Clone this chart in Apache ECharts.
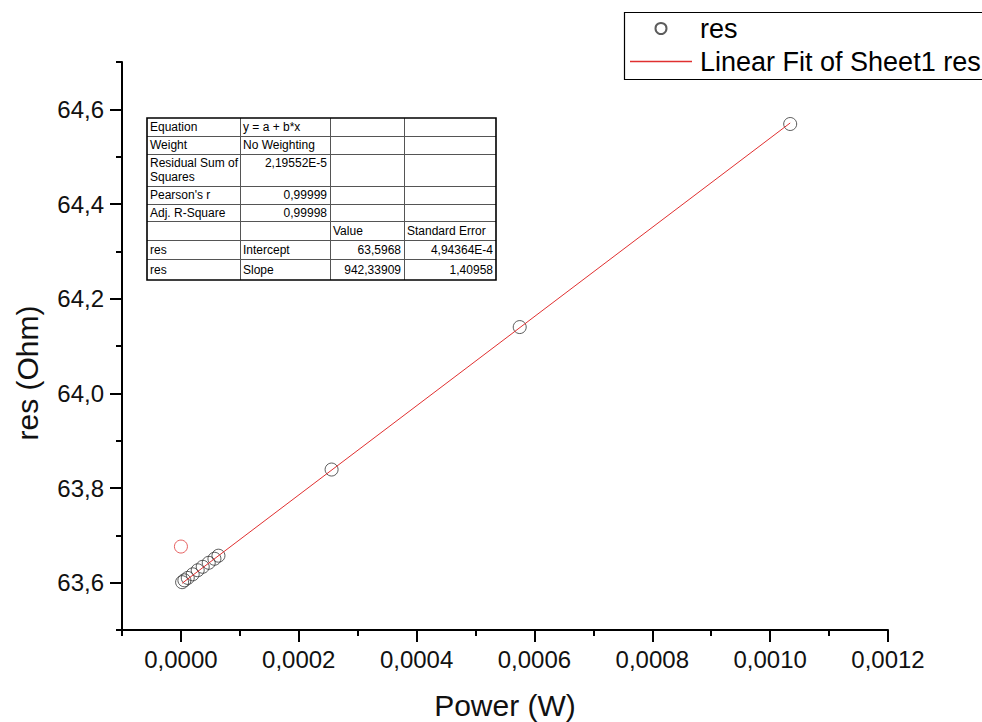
<!DOCTYPE html>
<html><head><meta charset="utf-8">
<script src="https://cdn.jsdelivr.net/npm/echarts@6/dist/echarts.min.js"></script>
<style>html,body{margin:0;padding:0;background:#fff}#c{width:982px;height:722px}</style>
</head><body><div id="c"></div>
<script>
// ---- data ----
const powerW = [0.0000020, 0.0000059, 0.0000116, 0.0000200, 0.0000285, 0.0000370, 0.0000472, 0.0000569, 0.0000637, 0.0002557, 0.0005750, 0.0010340];
const resOhm = [63.6010, 63.6050, 63.6100, 63.6176, 63.6262, 63.6335, 63.6420, 63.6505, 63.6570, 63.8390, 64.1400, 64.5690];
const maskedPower = [0.0000000];
const maskedRes = [63.6763];
const fitPower = [0.0000020, 0.0010340];
const fitRes = [63.5987, 64.5712];
const xMajorTicks = [0, 0.0002, 0.0004, 0.0006, 0.0008, 0.0010, 0.0012];
const xMinorTicks = [-0.0001, 0.0001, 0.0003, 0.0005, 0.0007, 0.0009, 0.0011];
const yMajorTicks = [63.6, 63.8, 64.0, 64.2, 64.4, 64.6];
const yMinorTicks = [63.5, 63.7, 63.9, 64.1, 64.3, 64.5, 64.7];
const seriesNames = ['res', 'Linear Fit of Sheet1 res'];
const tableRows = [
  ['Equation', 'y = a + b*x', '', ''],
  ['Weight', 'No Weighting', '', ''],
  ['Residual Sum of\nSquares', '2,19552E-5', '', ''],
  ["Pearson's r", '0,99999', '', ''],
  ['Adj. R-Square', '0,99998', '', ''],
  ['', '', 'Value', 'Standard Error'],
  ['res', 'Intercept', '63,5968', '4,94364E-4'],
  ['res', 'Slope', '942,33909', '1,40958']
];

// ---- layout ----
const FONT = '"Liberation Sans", Arial, sans-serif';
const FIT_COLOR = '#e03030';
const gridBox = {left: 122, right: 94, top: 62, bottom: 92, containLabel: false, outerBoundsMode: 'none'};
const tabL = 147, tabT = 118;
const colEdges = [0, 93, 183, 257, 349];
const rowEdges = [0, 18, 36, 68, 86, 103, 122, 141, 162];

const fmtX = v => (Math.round(v * 1e4) / 1e4).toFixed(4).replace('.', ',');
const fmtY = v => (Math.round(v * 10) / 10).toFixed(1).replace('.', ',');

// table graphic
const tableEls = [];
const tw = colEdges[colEdges.length - 1], th = rowEdges[rowEdges.length - 1];
tableEls.push({type: 'rect', shape: {x: 0, y: 0, width: tw, height: th}, style: {fill: '#fff', stroke: null}});
for (let i = 1; i < rowEdges.length - 1; i++) {
  tableEls.push({type: 'line', shape: {x1: 0, y1: rowEdges[i] + 0.5, x2: tw, y2: rowEdges[i] + 0.5}, style: {stroke: '#555', lineWidth: 1}});
}
for (let j = 1; j < colEdges.length - 1; j++) {
  tableEls.push({type: 'line', shape: {x1: colEdges[j] + 0.5, y1: 0, x2: colEdges[j] + 0.5, y2: th}, style: {stroke: '#555', lineWidth: 1}});
}
tableEls.push({type: 'rect', shape: {x: 0, y: 0, width: tw, height: th}, style: {fill: null, stroke: '#000', lineWidth: 1.6}});
tableRows.forEach((row, i) => {
  const multi = row[0].indexOf('\n') >= 0;
  row.forEach((txt, j) => {
    if (!txt) return;
    const right = /^[0-9,E\-]+$/.test(txt);
    const x = right ? colEdges[j + 1] - 3 : colEdges[j] + 3;
    const y = multi ? rowEdges[i] + 2 : (rowEdges[i] + rowEdges[i + 1]) / 2;
    tableEls.push({type: 'text', x: x, y: y, style: {
      text: txt, fill: '#000', fontSize: 12, fontFamily: FONT, lineHeight: 14,
      align: right ? 'right' : 'left', verticalAlign: multi ? 'top' : 'middle'}});
  });
});

const scatterData = powerW.map((p, i) => [p, resOhm[i]]);
maskedPower.forEach((p, i) => scatterData.push({value: [p, maskedRes[i]], itemStyle: {borderColor: '#e03a3a'}}));
const fitData = fitPower.map((p, i) => [p, fitRes[i]]);

const tickStyle = {color: '#000', width: 2};
const chart = echarts.init(document.getElementById('c'), null, {renderer: 'svg'});
chart.setOption({
  animation: false,
  backgroundColor: '#fff',
  textStyle: {fontFamily: FONT},
  grid: [Object.assign({}, gridBox), Object.assign({}, gridBox)],
  legend: {
    orient: 'vertical', left: 623, top: 10, itemWidth: 62, itemHeight: 11, itemGap: 6,
    padding: [5, 1, 2, 7], borderWidth: 0, selectedMode: false,
    textStyle: {fontSize: 27, color: '#000', fontFamily: FONT, padding: [0, 0, 0, 3]},
    data: [
      {name: seriesNames[0]},
      {name: seriesNames[1], icon: 'path://M0,0 H62 V1.5 H0 Z', itemStyle: {color: FIT_COLOR, borderWidth: 0}}
    ]
  },
  xAxis: [{
    gridIndex: 0, type: 'value', min: -0.0001, max: 0.0012, interval: 0.0001,
    axisLine: {show: true, onZero: false, lineStyle: {color: '#000', width: 2}},
    axisTick: {show: true, length: 12, customValues: xMajorTicks, lineStyle: tickStyle},
    axisLabel: {show: true, customValues: xMajorTicks, formatter: fmtX, fontSize: 24, color: '#111', margin: 17, fontFamily: FONT},
    splitLine: {show: false},
    name: 'Power (W)', nameLocation: 'middle', nameGap: 60,
    nameTextStyle: {fontSize: 30, color: '#111', fontFamily: FONT}
  }, {
    gridIndex: 1, type: 'value', min: -0.0001, max: 0.0012, interval: 0.0001,
    position: 'bottom',
    axisLine: {show: false, onZero: false},
    axisTick: {show: true, length: 6, customValues: xMinorTicks, lineStyle: tickStyle},
    axisLabel: {show: false}, splitLine: {show: false}
  }],
  yAxis: [{
    gridIndex: 0, type: 'value', min: 63.5, max: 64.7, interval: 0.1,
    axisLine: {show: true, onZero: false, lineStyle: {color: '#000', width: 2}},
    axisTick: {show: true, length: 12, customValues: yMajorTicks, lineStyle: tickStyle},
    axisLabel: {show: true, customValues: yMajorTicks, formatter: fmtY, fontSize: 24, color: '#111', margin: 18, fontFamily: FONT},
    splitLine: {show: false}
  }, {
    gridIndex: 1, type: 'value', min: 63.5, max: 64.7, interval: 0.1,
    position: 'left',
    axisLine: {show: false, onZero: false},
    axisTick: {show: true, length: 6, customValues: yMinorTicks, lineStyle: tickStyle},
    axisLabel: {show: false}, splitLine: {show: false}
  }],
  graphic: [
    {type: 'rect', left: 622, top: 10, z: 90, shape: {width: 420, height: 67}, style: {fill: null, stroke: '#000', lineWidth: 1.2}},
    {type: 'text', x: 27, y: 373, rotation: Math.PI / 2, style: {text: 'res (Ohm)', fontSize: 30, fill: '#111', fontFamily: FONT, align: 'center', verticalAlign: 'middle'}},
    {type: 'group', x: tabL, y: tabT, z: 100, children: tableEls}
  ],
  series: [{
    name: seriesNames[0], type: 'scatter', xAxisIndex: 0, yAxisIndex: 0,
    symbol: 'circle', symbolSize: 13,
    itemStyle: {color: 'rgba(255,255,255,0)', borderColor: '#333', borderWidth: 1},
    data: scatterData
  }, {
    name: seriesNames[1], type: 'line', xAxisIndex: 0, yAxisIndex: 0,
    symbol: 'none', showSymbol: false,
    lineStyle: {color: FIT_COLOR, width: 1}, itemStyle: {color: FIT_COLOR},
    data: fitData, z: 3
  }]
});
</script></body></html>
